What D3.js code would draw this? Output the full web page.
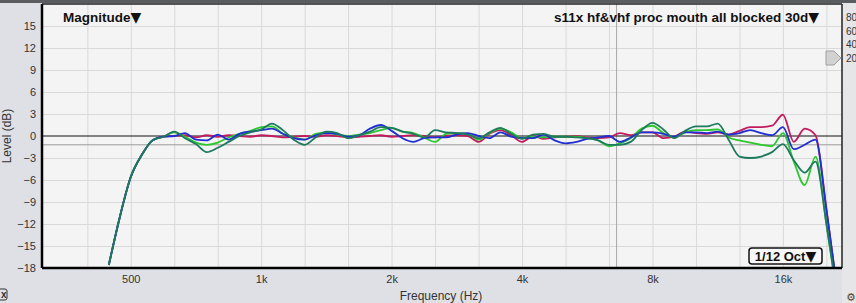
<!DOCTYPE html>
<html>
<head>
<meta charset="utf-8">
<script src="https://cdn.jsdelivr.net/npm/d3@7"></script>
<style>
  body { margin: 0; background: #dfe0e5; }
  svg { display: block; font-family: "Liberation Sans", Arial, sans-serif; }
  .tick text { fill: #333; font-size: 11px; }
</style>
</head>
<body>
<div id="chart"></div>
<script>
// frequencies (Hz), 1/12 octave points
let freqs = [445, 472, 500, 530, 561, 595, 630, 667, 707, 749, 794, 841, 891, 944,
    1000, 1059, 1122, 1189, 1260, 1335, 1414, 1498, 1587, 1682, 1782, 1888,
    2000, 2119, 2245, 2378, 2520, 2670, 2828, 2997, 3175, 3364, 3564, 3775,
    4000, 4238, 4490, 4757, 5040, 5339, 5657, 5993, 6350, 6727, 7127, 7551,
    8000, 8476, 8980, 9514, 10079, 10679, 11314, 11986, 12699, 13454, 14254, 15102,
    16000, 16951, 17959, 19027, 20159, 21357];

// levels (dB) per measurement
let crimson = [-17.6, -11, -5.6, -2.6, -0.6, -0.1,
    0, 0.1, -0.2, 0.1, -0.1, 0.1, 0, -0.1,
    0.1, 0, -0.2, -0.1, 0, -0.1, 0.1, 0, -0.2, -0.1, 0, 0.1,
    -0.1, 0, 0.1, 0, -0.2, 0, 0.1, 0, -0.8, 0.3, 0.8, 0.1,
    -0.8, 0, -0.4, -0.2, -0.1, 0, -0.2, -0.3, -0.2, 0.4, 0.1, 0.5,
    0.5, -0.3, -0.1, 0.6, 0.4, 0.3, 0.5, 0.2, 0.7, 1.2, 1.2, 1.4,
    2.9, -0.8, 1.0, 0.1, -10, -21];
let blue = [-17.6, -11, -5.6, -2.6, -0.6, -0.1,
    0, 0.4, -0.5, -0.6, 0.2, -0.5, 0.3, 0.6,
    0.8, 1.0, 0.3, -0.3, -0.5, 0.1, 0.4, 0.3, -0.1, 0.1, 1.0, 1.5,
    0.7, -0.3, -0.8, -0.3, -0.2, -0.2, 0.2, 0.4, 0, -0.3, 0.5, -0.1,
    -0.3, -0.3, 0.2, -0.6, -1.0, -0.8, -0.4, -0.2, 0, -0.8, -0.2, 0.5,
    0.5, 0.3, -0.1, 0.5, 0.5, 0.4, 0.6, 0.2, 0.4, 0.8, 0.4, 0.1,
    1.2, -1.8, -1.2, -0.5, -10, -21];
let green = [-17.6, -11, -5.6, -2.6, -0.6, -0.1,
    0.5, -0.1, -0.9, -1.2, -0.9, -0.2, 0.3, 0.7,
    1.2, 1.3, 0.3, -0.2, -0.5, 0.3, 0.5, 0.2, 0, 0.2, 0.4, 0.8,
    1.1, 0.6, 0.4, -0.2, -0.8, 0.3, 0.4, 0.3, -0.5, 0.4, 1.0, 0.5,
    -0.3, -0.1, -0.2, -0.1, -0.1, -0.1, -0.3, -0.6, -1.4, -1.0, -0.3, 1.0,
    1.4, 0.4, -0.2, 0.5, 0.8, 0.8, 0.9, -0.2, -0.6, -0.9, -1.2, -1.4,
    0.4, -3.5, -6.7, -2.8, -12, -22];
let teal = [-17.6, -11, -5.6, -2.6, -0.6, -0.1,
    0.6, -0.3, -1.1, -2.2, -1.6, -0.8, 0, 0.5,
    0.9, 1.7, 0.8, -0.5, -1.2, -0.2, 0.6, 0.4, -0.3, 0.1, 0.6, 1.2,
    1.1, 0.6, 0.3, -0.2, 0.8, 0.5, 0.4, 0.2, -0.3, 0.5, 1.1, 0.3,
    -0.4, 0.2, 0.3, -0.1, -0.1, -0.2, -0.3, -0.6, -1.2, -1.2, -0.8, 0.8,
    1.8, 0.9, -0.3, 0.7, 1.3, 1.3, 1.7, -0.5, -2.8, -3.0, -2.8, -2.2,
    -1.1, -3.3, -5.0, -3.5, -12, -22];

let seriesNames = ["crimson", "green", "blue", "teal"];
let seriesColors = ["#c41b5e", "#2ec82e", "#1f2fd1", "#1e7a5e"];

// axes
let xTicks = [500, 1000, 2000, 4000, 8000, 16000];
let xTickLabels = ["500", "1k", "2k", "4k", "8k", "16k"];
let xGrid = [397, 500, 630, 794, 1000, 1260, 1587, 2000, 2520, 3175, 4000, 5040,
    6350, 8000, 10079, 12699, 16000, 20159];
let yTicks = [-18, -15, -12, -9, -6, -3, 0, 3, 6, 9, 12, 15];
let yGrid = [-15, -12, -9, -6, -3, 3, 6, 9, 12, 15];
let refLevel = -1.2;
let cursorFreq = 6610;
let sideLabels = ["80", "60", "40", "20"];

let W = 856, H = 303;
let margin = {top: 4, right: 14, bottom: 35, left: 42};
let width = W - margin.left - margin.right;
let height = H - margin.top - margin.bottom;

let svg = d3.select("#chart").append("svg")
    .attr("width", W)
    .attr("height", H);

// top dark strip
svg.append("rect").attr("x", 0).attr("y", 0).attr("width", W).attr("height", 3).attr("fill", "#5b5c60");

// right side panel
svg.append("rect").attr("x", margin.left + width).attr("y", 3).attr("width", W - margin.left - width).attr("height", H - 3)
    .attr("fill", "#e6e6e8");
sideLabels.forEach((t, i) => {
    svg.append("text").attr("x", 846).attr("y", 21 + i * 13.5)
        .attr("font-size", "10px").attr("fill", "#333").text(t);
});

let g = svg.append("g").attr("transform", `translate(${margin.left},${margin.top})`);

g.append("rect").attr("width", width).attr("height", height).attr("fill", "#f4f4f4");

let x = d3.scaleLog().domain([312, 21900]).range([0, width]);
let y = d3.scaleLinear().domain([-18, 18]).range([height, 0]);

// grid
g.append("g")
    .call(d3.axisBottom(x).tickValues(xGrid).tickSize(height).tickFormat(""))
    .call(a => a.select(".domain").remove())
    .call(a => a.selectAll("line").attr("stroke", "#d9d9d9"));
g.append("g")
    .call(d3.axisLeft(y).tickValues(yGrid).tickSize(-width).tickFormat(""))
    .call(a => a.select(".domain").remove())
    .call(a => a.selectAll("line").attr("stroke", "#d9d9d9"));

// cursor & reference lines
g.append("line").attr("x1", x(cursorFreq)).attr("x2", x(cursorFreq)).attr("y1", 0).attr("y2", height)
    .attr("stroke", "#a8a8a8");
g.append("line").attr("x1", 0).attr("x2", width).attr("y1", y(refLevel)).attr("y2", y(refLevel))
    .attr("stroke", "#9a9a9a");
g.append("line").attr("x1", 0).attr("x2", width).attr("y1", y(0)).attr("y2", y(0))
    .attr("stroke", "#111").attr("stroke-width", 1.2);

// curves
g.append("clipPath").attr("id", "plotClip")
    .append("rect").attr("width", width).attr("height", height);

let line = d3.line()
    .x((d, i) => x(freqs[i]))
    .y(d => y(d))
    .curve(d3.curveMonotoneX);

let allSeries = [crimson, green, blue, teal];
g.append("g").attr("clip-path", "url(#plotClip)")
    .selectAll("path")
    .data(allSeries)
    .enter().append("path")
    .attr("class", (d, i) => "curve " + seriesNames[i])
    .attr("fill", "none")
    .attr("stroke", (d, i) => seriesColors[i])
    .attr("stroke-width", 1.8)
    .attr("stroke-linejoin", "round")
    .attr("d", line);

// frame
g.append("line").attr("x1", 0).attr("x2", width).attr("y1", 0).attr("y2", 0).attr("stroke", "#222").attr("stroke-width", 1.5);
g.append("line").attr("x1", width).attr("x2", width).attr("y1", 0).attr("y2", height).attr("stroke", "#222").attr("stroke-width", 1.5);
g.append("line").attr("x1", 0).attr("x2", width).attr("y1", height).attr("y2", height).attr("stroke", "#000").attr("stroke-width", 2.5);
g.append("line").attr("x1", 0).attr("x2", 0).attr("y1", 0).attr("y2", height).attr("stroke", "#000").attr("stroke-width", 2.5);

// axis labels
g.append("g")
    .call(d3.axisLeft(y).tickValues(yTicks).tickSize(0).tickPadding(6))
    .call(a => a.select(".domain").remove());
g.append("g")
    .attr("transform", `translate(0,${height})`)
    .call(d3.axisBottom(x).tickValues(xTicks).tickSize(0).tickPadding(7)
        .tickFormat((d, i) => xTickLabels[i]))
    .call(a => a.select(".domain").remove());

svg.append("text").attr("x", 441).attr("y", 300).attr("text-anchor", "middle")
    .attr("font-size", "12px").attr("fill", "#333").text("Frequency (Hz)");
svg.append("text").attr("transform", "translate(11,136) rotate(-90)").attr("text-anchor", "middle")
    .attr("font-size", "12px").attr("fill", "#333").text("Level (dB)");

// titles (with larger dropdown triangles)
function titleText(sel, label) {
    sel.append("tspan").text(label);
    sel.append("tspan").attr("font-family", "DejaVu Sans").attr("font-size", "14px").text("▼");
}
g.append("text").attr("x", 21).attr("y", 17.5).attr("font-size", "13.5px").attr("font-weight", "bold")
    .attr("fill", "#111").call(titleText, "Magnitude");
g.append("text").attr("x", 777).attr("y", 17.5).attr("text-anchor", "end").attr("font-size", "13.5px")
    .attr("font-weight", "bold").attr("fill", "#111").call(titleText, "s11x hf&vhf proc mouth all blocked 30d");

// smoothing box
g.append("rect").attr("x", 707).attr("y", 244).attr("width", 73).attr("height", 16).attr("rx", 3)
    .attr("fill", "#f8f8f8").attr("stroke", "#111").attr("stroke-width", 1.5);
g.append("text").attr("x", 743.5).attr("y", 257).attr("text-anchor", "middle").attr("font-size", "13px")
    .attr("font-weight", "bold").attr("fill", "#111").call(titleText, "1/12 Oct");

// level marker
svg.append("path").attr("d", "M826,51 L834,51 L841,58 L834,65 L826,65 Z")
    .attr("fill", "#d2d2d2").attr("stroke", "#a0a0a0");

// small icons
svg.append("rect").attr("x", -3).attr("y", 289).attr("width", 10).attr("height", 11).attr("rx", 2)
    .attr("fill", "none").attr("stroke", "#333");
svg.append("text").attr("x", 1).attr("y", 298).attr("font-size", "10px").attr("font-weight", "bold")
    .attr("fill", "#333").text("x");
svg.append("text").attr("x", 846).attr("y", 301).attr("font-family", "DejaVu Sans").attr("font-size", "11px")
    .attr("fill", "#444").text("⚙");
</script>
</body>
</html>
